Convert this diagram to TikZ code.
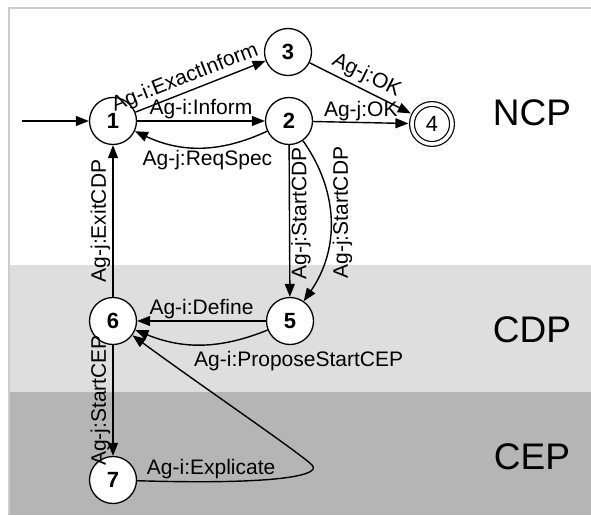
\documentclass[tikz,border=0pt]{standalone}
\usepackage{fontspec}
\setmainfont{Liberation Sans}
\usetikzlibrary{arrows.meta,positioning,calc}
\definecolor{framegray}{gray}{0.80}
\definecolor{cdpgray}{gray}{0.87}
\definecolor{cepgray}{gray}{0.71}
\tikzset{
    state/.style={circle,draw,fill=white,line width=1.3pt,minimum size=47pt,inner sep=0pt,
        font=\fontsize{22}{24}\selectfont\bfseries},
    final/.style={circle,draw,fill=white,line width=1.2pt,double,double distance=3.6pt,
        minimum size=40pt,inner sep=0pt,outer sep=3.6pt,font=\fontsize{22}{24}\selectfont},
    lbl/.style={font=\fontsize{21}{24}\selectfont,inner sep=2pt},
    phase/.style={font=\fontsize{37}{40}\selectfont}
}

\begin{document}
\begin{tikzpicture}[x=1pt,y=1pt,line width=1.4pt,>={Triangle[length=13pt,width=10pt]}]
    \useasboundingbox (0,0) rectangle (591,515);

    % draw the phase bands
    \fill[white] (0,0) rectangle (591,515);
    \fill[cdpgray] (10,123) rectangle (591,250);
    \fill[cepgray] (10,0) rectangle (591,123);
    \draw[framegray,line width=1.5pt] (9,0) -- (9,507) -- (591,507);

    % label the phases
    \node[phase] (ncp) at (532,402) {NCP};
    \node[phase] (cdp) at (532,185) {CDP};
    \node[phase] (cep) at (532,58) {CEP};

    % draw the states
    \node[state] (n1) at (113,394) {1};
    \node[state] (n2) at (289,394) {2};
    \node[state] (n3) at (288,463) {3};
    \node[final] (n4) at (432,391) {4};
    \node[state] (n5) at (290,194) {5};
    \node[state] (n6) at (113,194) {6};
    \node[state] (n7) at (113,35) {7};

    % draw the transitions in NCP
    \coordinate (start) at (22,394);
    \draw[->] (start) -- (n1);
    \draw[->] (n1) -- node[lbl,above,sloped,pos=0.42,inner sep=3pt]{Ag-i:ExactInform} (n3);
    \draw[->] (n1) -- node[lbl,above,inner sep=1pt]{Ag-i:Inform} (n2);
    \draw[->] (n2) to[bend left=25] node[lbl,below,pos=0.45]{Ag-j:ReqSpec} (n1);
    \draw[->] (n3) -- node[lbl,above,sloped,inner sep=3.5pt]{Ag-j:OK} (n4);
    \draw[->] (n2) -- node[lbl,above,inner sep=1pt]{Ag-j:OK} (n4);

    % draw the transitions between the phases
    \draw[->] (n2) -- node[lbl,rotate=90,anchor=north,pos=0.45,inner sep=1pt]{Ag-j:StartCDP} (n5);
    \draw[->] (n2) to[bend left=35] node[lbl,rotate=90,anchor=north,pos=0.45]{Ag-j:StartCDP} (n5);
    \draw[->] (n6) -- node[lbl,rotate=90,anchor=south]{Ag-j:ExitCDP} (n1);
    \draw[->] (n5) -- node[lbl,above,inner sep=1pt]{Ag-i:Define} (n6);
    \draw[->] (n5) to[bend left=22] node[lbl,anchor=north west,xshift=-10pt,yshift=-4pt]{Ag-i:ProposeStartCEP} (n6);
    \draw[->] (n6) -- node[lbl,rotate=90,anchor=south]{Ag-j:StartCEP} (n7);
    \coordinate (turn) at (312,50);
    \draw[->] (n7) .. controls (280,30) and (322,40) .. node[lbl,above,pos=0.2]{Ag-i:Explicate} (turn)
        .. controls (300,62) and (200,130) .. (n6);
\end{tikzpicture}
\end{document}
